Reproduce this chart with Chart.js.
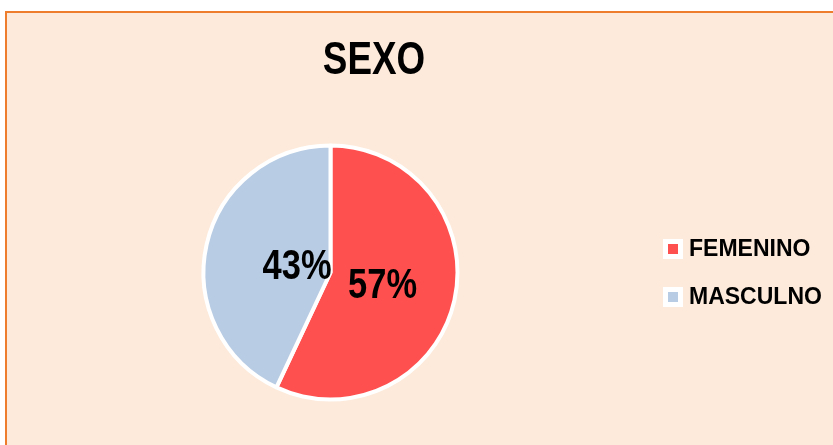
<!DOCTYPE html>
<html>
<head>
<meta charset="utf-8">
<script src="https://cdn.jsdelivr.net/npm/chart.js@4/dist/chart.umd.min.js"></script>
<style>
  html, body { margin: 0; padding: 0; background: #ffffff; overflow: hidden; }
  #frame {
    position: absolute; left: 5px; top: 11px; width: 900px; height: 500px;
    background: #FDEADA; border-left: 2px solid #EE7D2E; border-top: 2px solid #EE7D2E;
    box-sizing: border-box;
  }
  #wrap { position: absolute; left: 0; top: 0; width: 833px; height: 445px; }
</style>
</head>
<body>
<div id="frame"></div>
<div id="wrap"><canvas id="c" width="833" height="445"></canvas></div>
<script>
const chartTitle = "SEXO";
const categories = ["FEMENINO", "MASCULNO"];
const values = [57, 43];
const percentLabels = ["57%", "43%"];
const colors = ["#FF5050", "#B8CCE4"];

const wide = "'Liberation Sans', Arial, sans-serif";

function narrowText(ctx, text, x, y, size, squeeze) {
  ctx.save();
  ctx.font = "bold " + size + "px " + wide;
  ctx.textAlign = 'center';
  ctx.textBaseline = 'middle';
  ctx.translate(x, y);
  ctx.scale(squeeze, 1);
  ctx.fillText(text, 0, 0);
  ctx.restore();
}

const overlay = {
  id: 'overlay',
  afterDatasetsDraw(chart) {
    const ctx = chart.ctx;
    const meta = chart.getDatasetMeta(0);
    const fractions = [0.42, 0.27];
    ctx.save();
    ctx.fillStyle = '#000';
    meta.data.forEach((arc, i) => {
      const p = arc.getProps(['x','y','startAngle','endAngle','outerRadius'], true);
      const mid = (p.startAngle + p.endAngle) / 2;
      const r = p.outerRadius * fractions[i];
      narrowText(ctx, percentLabels[i], p.x + Math.cos(mid) * r, p.y + Math.sin(mid) * r + 2, 42, 0.82);
    });
    narrowText(ctx, chartTitle, 374, 61, 46, 0.8);
    // legend
    ctx.font = "bold 23px " + wide;
    ctx.textAlign = 'left';
    ctx.textBaseline = 'middle';
    categories.forEach((name, i) => {
      const cy = 249 + i * 48;
      ctx.fillStyle = '#ffffff';
      ctx.fillRect(663, cy - 10, 20, 20);
      ctx.fillStyle = colors[i];
      ctx.fillRect(668, cy - 5, 10, 10);
      ctx.fillStyle = '#000';
      ctx.fillText(name, 689, cy + 1);
    });
    ctx.restore();
  }
};

new Chart(document.getElementById('c'), {
  type: 'pie',
  data: {
    labels: categories,
    datasets: [{
      data: values,
      backgroundColor: colors,
      borderColor: '#ffffff',
      borderWidth: 4
    }]
  },
  options: {
    responsive: false,
    animation: false,
    events: [],
    layout: { padding: { left: 201.5, right: 373.5, top: 143.5, bottom: 43.5 } },
    plugins: {
      legend: { display: false },
      title: { display: false },
      tooltip: { enabled: false }
    }
  },
  plugins: [overlay]
});
</script>
</body>
</html>
